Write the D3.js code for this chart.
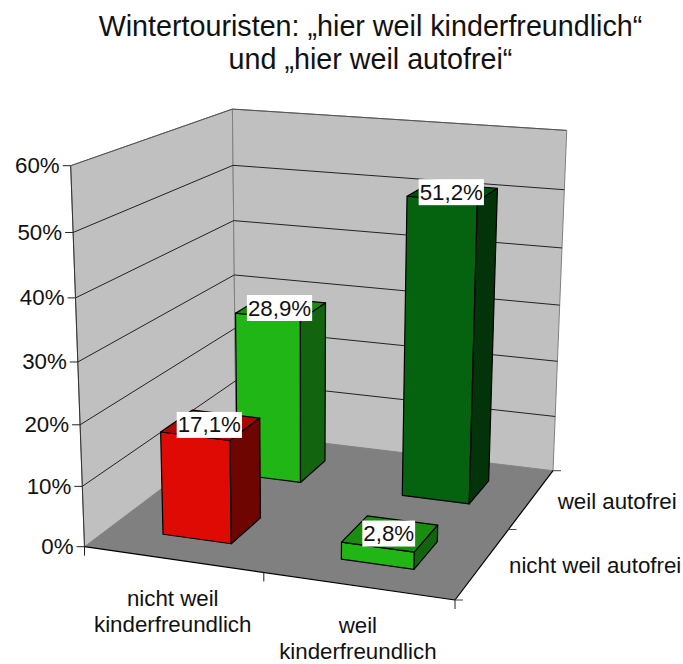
<!DOCTYPE html>
<html>
<head>
<meta charset="utf-8">
<script src="https://cdn.jsdelivr.net/npm/d3@7"></script>
<style>
  body { margin: 0; background: #fff; }
  text { font-family: "Liberation Sans", Arial, sans-serif; fill: #111; }
</style>
</head>
<body>
<svg width="683" height="664"></svg>
<script>
const titleLines = ['Wintertouristen: „hier weil kinderfreundlich“', 'und „hier weil autofrei“']
const kinderCats = ['nicht weil kinderfreundlich', 'weil kinderfreundlich']
const autoCats = ['nicht weil autofrei', 'weil autofrei']
const yTicks = [0, 10, 20, 30, 40, 50, 60]

// one row per auto category, front row first
const frontRow = [17.1, 2.8]
const backRow = [28.9, 51.2]
const frontColors = [['#E00A04', '#AA0803', '#6E0500'], ['#20B716', '#1A8C10', '#12640E']]
const backColors = [['#20B716', '#1A8C10', '#12640E'], ['#05620F', '#054F0D', '#033308']]

let svg = d3.select('svg')

// unit cube -> screen, hand fitted to the chart corners
let O = [84.5, 546.7]
let Pu = [455, 600]
let Pv = [236, 432.6]
let Ph = [70.7, 165.7]
let a = -0.0622
let b = 0.188
let c = -0.059
let B = [Pu[0] * (1 + a) - O[0], Pu[1] * (1 + a) - O[1]]
let C = [Pv[0] * (1 + b) - O[0], Pv[1] * (1 + b) - O[1]]
let D = [Ph[0] * (1 + c) - O[0], Ph[1] * (1 + c) - O[1]]

function project (u, v, h) {
  let w = 1 + a * u + b * v + c * h
  return [
    (O[0] + B[0] * u + C[0] * v + D[0] * h) / w,
    (O[1] + B[1] * u + C[1] * v + D[1] * h) / w
  ]
}

let x = d3.scaleBand().domain(kinderCats).range([0, 1]).paddingInner(0.61).paddingOuter(0.305)
let y = d3.scaleBand().domain(autoCats).range([0, 1]).paddingInner(0.6).paddingOuter(0.3)
let z = d3.scaleLinear().domain([0, 60]).range([0, 1])

let line = d3.line()
function poly (g, pts, fill, stroke, width) {
  g.append('path')
    .attr('d', line(pts) + 'Z')
    .attr('fill', fill)
    .attr('stroke', stroke)
    .attr('stroke-width', width)
    .attr('stroke-linejoin', 'round')
}
function seg (g, p, q, stroke, width) {
  g.append('path')
    .attr('d', line([p, q]))
    .attr('fill', 'none')
    .attr('stroke', stroke)
    .attr('stroke-width', width === undefined ? 1 : width)
}

// title
svg.selectAll('.title').data(titleLines).join('text')
  .attr('class', 'title')
  .attr('x', 370.5)
  .attr('y', (d, i) => 36 + i * 33)
  .attr('text-anchor', 'middle')
  .attr('font-size', 28.7)
  .text(d => d)

// walls and floor
let walls = svg.append('g')
poly(walls, [project(0, 0, 0), project(0, 1, 0), project(0, 1, 1), project(0, 0, 1)], '#C0C0C0', '#808080', 1)
poly(walls, [project(0, 1, 0), project(1, 1, 0), project(1, 1, 1), project(0, 1, 1)], '#C0C0C0', '#808080', 1)
poly(walls, [project(0, 0, 0), project(1, 0, 0), project(1, 1, 0), project(0, 1, 0)], '#808080', 'none', 0)

// gridlines
yTicks.forEach(t => {
  if (t > 0 && t < 60) {
    seg(walls, project(0, 0, z(t)), project(0, 1, z(t)), '#222')
    seg(walls, project(0, 1, z(t)), project(1, 1, z(t)), '#222')
  }
})
seg(walls, project(0, 0, 0), project(0, 0, 1), '#333')
seg(walls, project(0, 0, 1), project(0, 1, 1), '#555')
seg(walls, project(0, 1, 1), project(1, 1, 1), '#555')
seg(walls, project(0, 0, 0), project(1, 0, 0), '#000', 1.2)
seg(walls, project(1, 0, 0), project(1, 1, 0), '#000', 1.2)

// axis ticks
yTicks.forEach(t => {
  let p = project(0, 0, z(t))
  seg(walls, [p[0] - 8, p[1]], p, '#222')
  svg.append('text')
    .attr('x', p[0] - 11)
    .attr('y', p[1] + 7.5)
    .attr('text-anchor', 'end')
    .attr('font-size', 22.3)
    .text(t + '%')
})
;[0, 0.5, 1].forEach(t => {
  let p = project(t, 0, 0)
  seg(walls, p, [p[0], p[1] + 9], '#222')
})
;[0, 0.5, 1].forEach(t => {
  let p = project(1, t, 0)
  seg(walls, p, [p[0] + 8, p[1]], '#444')
})

// bars, back row first so the front row covers it
function drawBar (g, cat, row, value, colors) {
  let u0 = x(cat)
  let u1 = u0 + x.bandwidth()
  let v0 = y(row)
  let v1 = v0 + y.bandwidth()
  let h = z(value)
  poly(g, [project(u0, v0, 0), project(u1, v0, 0), project(u1, v0, h), project(u0, v0, h)], colors[0], '#000', 1.2)
  poly(g, [project(u0, v0, h), project(u1, v0, h), project(u1, v1, h), project(u0, v1, h)], colors[1], '#000', 1.2)
  poly(g, [project(u1, v0, 0), project(u1, v1, 0), project(u1, v1, h), project(u1, v0, h)], colors[2], '#000', 1.2)
}

function drawLabel (g, cat, row, value) {
  let p = project(x(cat) + x.bandwidth() / 2, y(row) + y.bandwidth() / 2, z(value))
  let s = d3.format('.1f')(value).replace('.', ',') + '%'
  let gl = g.append('g').attr('transform', 'translate(' + (p[0] - 1.5) + ',' + p[1] + ')')
  let t = gl.append('text')
    .attr('text-anchor', 'middle')
    .attr('y', 7.5)
    .attr('font-size', 22.3)
    .text(s)
  let w = t.node().getComputedTextLength()
  gl.insert('rect', 'text')
    .attr('x', -w / 2 - 1)
    .attr('y', -13)
    .attr('width', w + 2)
    .attr('height', 26)
    .attr('fill', '#fff')
}

let bars = svg.append('g')
backRow.forEach((v, i) => drawBar(bars, kinderCats[i], autoCats[1], v, backColors[i]))
frontRow.forEach((v, i) => drawBar(bars, kinderCats[i], autoCats[0], v, frontColors[i]))

let labels = svg.append('g')
backRow.forEach((v, i) => drawLabel(labels, kinderCats[i], autoCats[1], v))
frontRow.forEach((v, i) => drawLabel(labels, kinderCats[i], autoCats[0], v))

// category labels
kinderCats.forEach(cat => {
  let p = project(x(cat) + x.bandwidth() / 2, 0, 0)
  let parts = cat.split(' kinder')
  svg.append('text')
    .attr('x', p[0])
    .attr('y', p[1] + 47)
    .attr('text-anchor', 'middle')
    .attr('font-size', 22.3)
    .text(parts[0])
  svg.append('text')
    .attr('x', p[0])
    .attr('y', p[1] + 72.5)
    .attr('text-anchor', 'middle')
    .attr('font-size', 22.3)
    .text('kinder' + parts[1])
})
autoCats.forEach(row => {
  let p = project(1, y(row) + y.bandwidth() / 2, 0)
  svg.append('text')
    .attr('x', p[0] + 26)
    .attr('y', p[1] + 10)
    .attr('font-size', 22.3)
    .text(row)
})
</script>
</body>
</html>
